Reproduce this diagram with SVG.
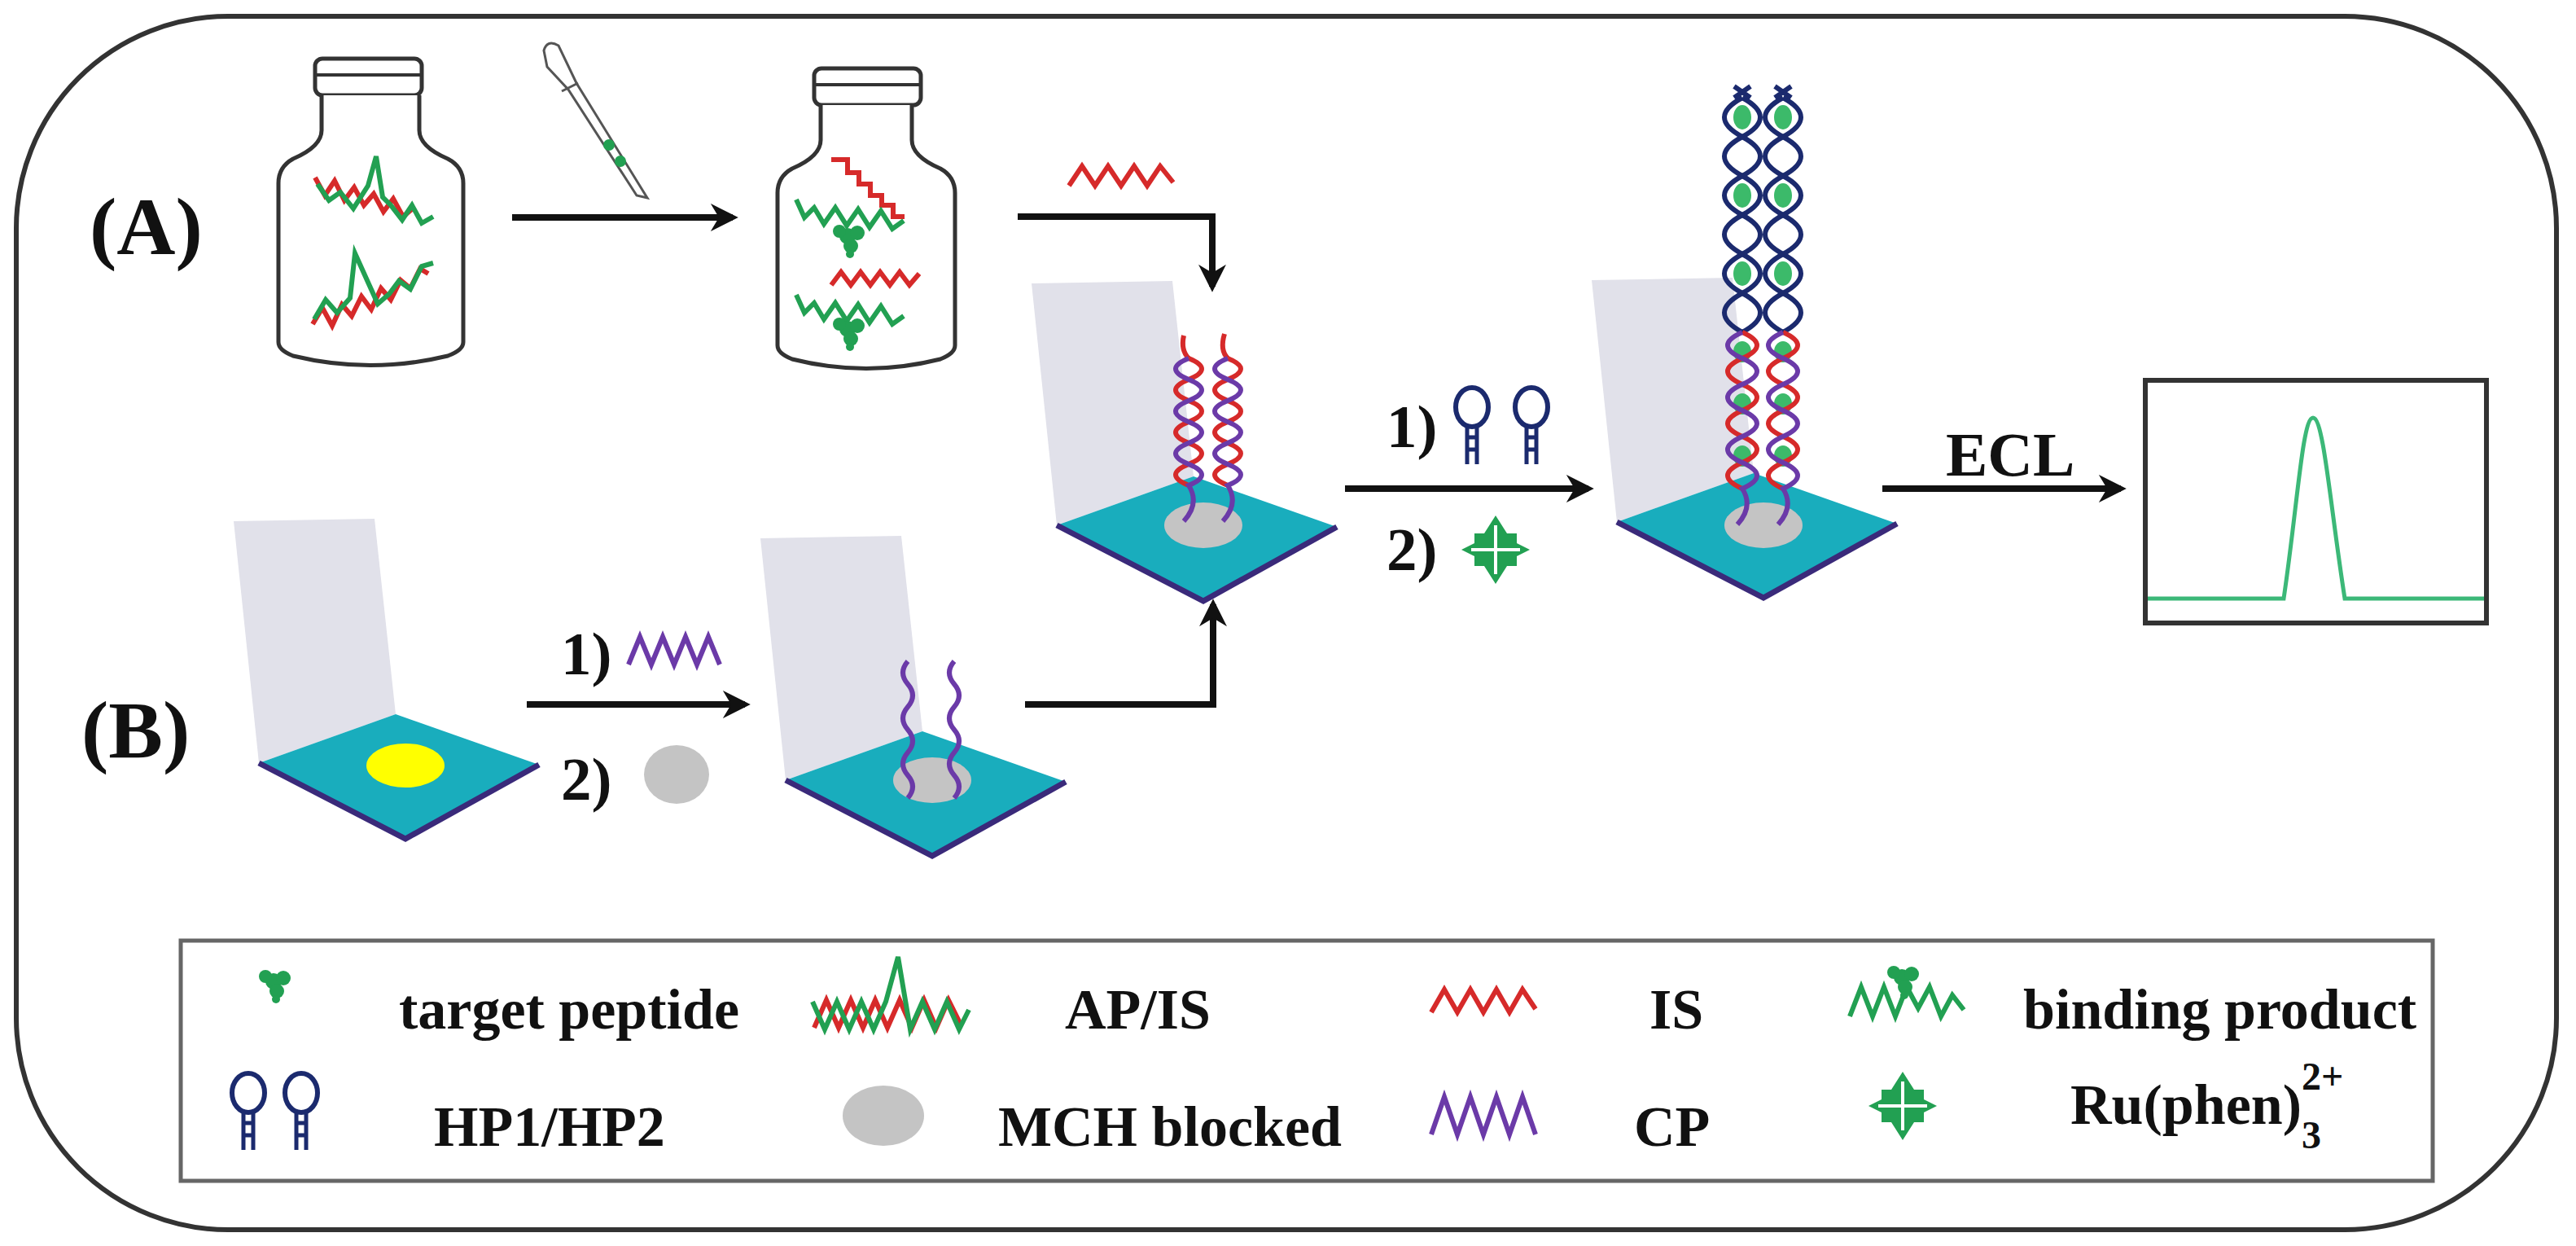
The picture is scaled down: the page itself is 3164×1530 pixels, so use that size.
<svg xmlns="http://www.w3.org/2000/svg" width="3164" height="1530" viewBox="0 0 3164 1530" font-family="Liberation Serif, Times New Roman, serif">
<defs>
<style>
text{font-weight:bold;fill:#111}
.lbl{font-size:100px}
.leg{font-size:70px}
.step{font-size:75px}
.conn{stroke:#111;stroke-width:8;fill:none}
.jar{fill:#fff;stroke:#333;stroke-width:5}
.red{stroke:#d62a2a;stroke-width:6;fill:none}
.pur{stroke:#6b3aa8;stroke-width:6;fill:none}
.grn{stroke:#22a052;stroke-width:6;fill:none}
.navy{stroke:#1b2a6e;stroke-width:6;fill:none}
</style>
<marker id="ah" viewBox="0 0 10 10" refX="8" refY="5" markerWidth="34" markerHeight="34" markerUnits="userSpaceOnUse" orient="auto">
<path d="M0,0 L10,5 L0,10 L3,5 Z" fill="#111"/>
</marker>
<g id="electrode">
<polygon points="-31,-297 142,-300 168,-60 0,0" fill="#e1e1ea"/>
<polygon points="0,0 168,-60 344,2 180,93" fill="#19adbd"/>
<polyline points="0,0 180,93 344,2" fill="none" stroke="#3a2a7a" stroke-width="7"/>
</g>
<g id="hairpin">
<ellipse cx="0" cy="0" rx="20" ry="24" fill="none" stroke="#1b2a6e" stroke-width="6"/>
<path d="M-6,23 L-6,70 M6,23 L6,70 M-6,37 L6,37 M-6,52 L6,52" stroke="#1b2a6e" stroke-width="5" fill="none"/>
</g>
<g id="cross">
<polygon points="0,-42 14,-20 26,-20 26,-8 42,0 26,8 26,20 14,20 0,42 -14,20 -26,20 -26,8 -42,0 -26,-8 -26,-20 -14,-20" fill="#22a052"/>
<path d="M0,-30 V30 M-30,0 H30" stroke="#fff" stroke-width="4"/>
</g>
<g id="blob">
<circle cx="0" cy="0" r="10" fill="#22a052"/><circle cx="12" cy="-4" r="9" fill="#22a052"/><circle cx="-10" cy="-6" r="8" fill="#22a052"/><circle cx="4" cy="12" r="9" fill="#22a052"/><circle cx="3" cy="22" r="5" fill="#22a052"/>
</g>
</defs>
<rect width="3164" height="1530" fill="#fff"/>
<rect id="frame" x="20" y="20" width="3120" height="1490" rx="260" ry="260" fill="none" stroke="#333" stroke-width="6"/>

<text class="lbl" x="110" y="312">(A)</text>
<text class="lbl" x="100" y="930">(B)</text>

<g id="jar1">
<rect x="387" y="72" width="131" height="45" rx="9" class="jar"/>
<line x1="387" y1="92" x2="518" y2="92" stroke="#333" stroke-width="4"/>
<path class="jar" d="M395,117 L395,160 Q395,180 360,195 Q342,205 342,225 L342,420 Q342,430 360,437 Q455,460 550,437 Q569,430 569,420 L569,225 Q569,205 550,195 Q515,180 515,160 L515,117"/>
<path class="red" d="M387,218 l12,22 l12,-18 l12,24 l12,-16 l12,22 l12,-14 l12,22 l12,-16 l12,22 l12,-10"/>
<path class="grn" d="M390,226 l14,20 l14,-10 l16,20 l18,-28 l10,-36 l8,50 l10,10 l14,18 l12,-18 l12,22 l14,-8"/>
<path class="red" d="M384,398 l12,-20 l12,22 l12,-26 l12,14 l12,-24 l12,16 l12,-26 l12,14 l12,-24 l12,10 l12,-24 l10,6"/>
<path class="grn" d="M386,392 l14,-24 l14,16 l16,-18 l6,-55 l18,40 l10,22 l14,-12 l12,-16 l14,10 l14,-28 l14,-4"/>
</g>

<g id="pipette">
<path d="M668,62 Q672,48 686,56 L708,102 L795,243 L782,240 L698,110 L672,82 Z" fill="#fff" stroke="#555" stroke-width="3"/>
<line x1="690" y1="112" x2="710" y2="102" stroke="#555" stroke-width="3"/>
<circle cx="748" cy="178" r="7" fill="#22a052"/><circle cx="762" cy="198" r="7" fill="#22a052"/>
</g>

<g id="jar2">
<rect x="1000" y="84" width="131" height="45" rx="9" class="jar"/>
<line x1="1000" y1="104" x2="1131" y2="104" stroke="#333" stroke-width="4"/>
<path class="jar" d="M1008,129 L1008,172 Q1008,192 973,207 Q955,217 955,237 L955,424 Q955,434 973,441 Q1064,464 1155,441 Q1173,434 1173,424 L1173,237 Q1173,217 1155,207 Q1120,192 1120,172 L1120,129"/>
<path class="red" d="M1021,196 h20 v16 h14 v14 h14 v14 h14 v12 h14 v14 h14"/>
<path class="grn" d="M978,245 l10,22 l12,-12 l12,20 l14,-20 l14,22 l14,-20 l14,22 l14,-20 l14,22 l14,-10"/>
<use href="#blob" x="1041" y="290"/>
<path class="red" d="M1021,350 l12,-16 l12,16 l12,-16 l12,16 l12,-16 l12,16 l12,-16 l12,16 l12,-14"/>
<path class="grn" d="M978,362 l10,22 l12,-12 l12,20 l14,-20 l14,22 l14,-20 l14,22 l14,-20 l14,22 l14,-10"/>
<use href="#blob" x="1041" y="404"/>
</g>

<g id="electrodeB1">
<use href="#electrode" x="318" y="937"/>
<ellipse cx="498" cy="940" rx="48" ry="27" fill="#ffff00"/>
</g>

<g id="electrodeB2">
<use href="#electrode" x="965" y="958"/>
<ellipse cx="1145" cy="958" rx="48" ry="28" fill="#c4c4c4"/>
<path class="pur" d="M1115,812 q-12,14 0,28 t0,28 t0,28 t0,28 t0,28 t0,28"/>
<path class="pur" d="M1172,812 q-12,14 0,28 t0,28 t0,28 t0,28 t0,28 t0,28"/>
</g>

<g id="electrodeMid">
<use href="#electrode" x="1298" y="645"/>
<ellipse cx="1478" cy="645" rx="48" ry="28" fill="#c4c4c4"/>
<path class="red" d="M1460,440 q-10,-10 -6,-28"/>
<path class="red" d="M1508,440 q-10,-10 -4,-30"/>
<path class="red" d="M1460,440 q32,13 0,26 t0,26 t0,26 t0,26 t0,26 t0,26"/>
<path class="pur" d="M1460,440 q-32,13 0,26 t0,26 t0,26 t0,26 t0,26 t0,26 q14,22 -6,44"/>
<path class="red" d="M1508,440 q32,13 0,26 t0,26 t0,26 t0,26 t0,26 t0,26"/>
<path class="pur" d="M1508,440 q-32,13 0,26 t0,26 t0,26 t0,26 t0,26 t0,26 q14,22 -6,44"/>
</g>

<g id="electrodeRight">
<use href="#electrode" x="1986" y="641"/>
<ellipse cx="2166" cy="645" rx="48" ry="28" fill="#c4c4c4"/>
<g fill="#3cba6a">
<ellipse cx="2140" cy="144" rx="11" ry="15"/><ellipse cx="2190" cy="144" rx="11" ry="15"/>
<ellipse cx="2140" cy="240" rx="11" ry="15"/><ellipse cx="2190" cy="240" rx="11" ry="15"/>
<ellipse cx="2140" cy="336" rx="11" ry="15"/><ellipse cx="2190" cy="336" rx="11" ry="15"/>
<ellipse cx="2140" cy="432" rx="11" ry="13"/><ellipse cx="2190" cy="432" rx="11" ry="13"/>
<ellipse cx="2140" cy="496" rx="11" ry="13"/><ellipse cx="2190" cy="496" rx="11" ry="13"/>
<ellipse cx="2140" cy="560" rx="11" ry="13"/><ellipse cx="2190" cy="560" rx="11" ry="13"/>
</g>
<path class="navy" d="M2140,120 q44,24 0,48 t0,48 t0,48 t0,48 t0,48 t0,48"/>
<path class="navy" d="M2140,120 q-44,24 0,48 t0,48 t0,48 t0,48 t0,48 t0,48"/>
<path class="navy" d="M2190,120 q44,24 0,48 t0,48 t0,48 t0,48 t0,48 t0,48"/>
<path class="navy" d="M2190,120 q-44,24 0,48 t0,48 t0,48 t0,48 t0,48 t0,48"/>
<path class="navy" d="M2130,106 l20,14 M2150,106 l-20,14 M2180,106 l20,14 M2200,106 l-20,14" stroke-width="4"/>
<path class="red" d="M2140,408 q36,16 0,32 t0,32 t0,32 t0,32 t0,32 t0,32"/>
<path class="pur" d="M2140,408 q-36,16 0,32 t0,32 t0,32 t0,32 t0,32 t0,32 q14,22 -6,44"/>
<path class="red" d="M2190,408 q36,16 0,32 t0,32 t0,32 t0,32 t0,32 t0,32"/>
<path class="pur" d="M2190,408 q-36,16 0,32 t0,32 t0,32 t0,32 t0,32 t0,32 q14,22 -6,44"/>
</g>

<g id="graph">
<rect x="2635" y="467" width="419" height="298" fill="#fff" stroke="#333" stroke-width="6"/>
<path d="M2638,735 L2805,735 C2822,620 2828,513 2841,513 C2854,513 2862,620 2880,735 L3051,735" fill="none" stroke="#3cb878" stroke-width="5"/>
</g>

<g id="connectors">
<line class="conn" x1="629" y1="267" x2="900" y2="267" marker-end="url(#ah)"/>
<polyline class="conn" points="1250,266 1489,266 1489,352" marker-end="url(#ah)"/>
<line class="conn" x1="647" y1="865" x2="915" y2="865" marker-end="url(#ah)"/>
<polyline class="conn" points="1259,865 1490,865 1490,742" marker-end="url(#ah)"/>
<line class="conn" x1="1652" y1="600" x2="1951" y2="600" marker-end="url(#ah)"/>
<line class="conn" x1="2312" y1="600" x2="2605" y2="600" marker-end="url(#ah)"/>
</g>

<g id="labels">
<path class="red" d="M1313,228 l16,-24 l16,24 l16,-24 l16,24 l16,-24 l16,24 l16,-24 l16,20"/>
<text class="step" x="689" y="828">1)</text>
<path class="pur" d="M772,816 l14,-34 l14,34 l14,-34 l14,34 l14,-34 l14,34 l14,-34 l14,34"/>
<text class="step" x="689" y="982">2)</text>
<ellipse cx="831" cy="951" rx="40" ry="36" fill="#c4c4c4"/>
<text class="step" x="1703" y="549">1)</text>
<use href="#hairpin" x="1808" y="500"/>
<use href="#hairpin" x="1881" y="500"/>
<text class="step" x="1703" y="700">2)</text>
<use href="#cross" x="1837" y="675"/>
<text x="2390" y="584" style="font-size:77px">ECL</text>
</g>

<g id="legend">
<rect x="222" y="1155" width="2766" height="295" fill="#fff" stroke="#666" stroke-width="5"/>
<use href="#blob" x="336" y="1205"/>
<text class="leg" x="490" y="1263">target peptide</text>
<path class="red" d="M1000,1262 l15,-34 l15,34 l15,-34 l15,34 l15,-34 l15,34 l15,-34 l15,34 l15,-34 l15,34 l15,-34 l15,30"/>
<path class="grn" d="M998,1230 l15,34 l15,-34 l15,34 l15,-34 l15,34 l15,-34 l15,-55 l15,89 l15,-34 l15,34 l15,-34 l15,34 l12,-24"/>
<text class="leg" x="1308" y="1263">AP/IS</text>
<path class="red" d="M1758,1243 l16,-28 l16,28 l16,-28 l16,28 l16,-28 l16,28 l16,-28 l16,24"/>
<text class="leg" x="2026" y="1263">IS</text>
<path class="grn" d="M2272,1248 l14,-36 l14,36 l14,-36 l14,36 l14,-36 l14,26 l14,-26 l14,36 l14,-26 l14,18"/>
<use href="#blob" x="2336" y="1200"/>
<text class="leg" x="2485" y="1263">binding product</text>

<use href="#hairpin" x="305" y="1342"/>
<use href="#hairpin" x="370" y="1342"/>
<text class="leg" x="533" y="1407">HP1/HP2</text>
<ellipse cx="1085" cy="1370" rx="50" ry="37" fill="#c4c4c4"/>
<text class="leg" x="1226" y="1407">MCH blocked</text>
<path class="pur" d="M1758,1393 l16,-46 l16,46 l16,-46 l16,46 l16,-46 l16,46 l16,-46 l16,46"/>
<text class="leg" x="2007" y="1407">CP</text>
<use href="#cross" x="2337" y="1358"/>
<text class="leg" x="2543" y="1380">Ru(phen)<tspan dy="30" font-size="48">3</tspan><tspan dx="-24" dy="-72" font-size="48">2+</tspan></text>
</g>
</svg>
